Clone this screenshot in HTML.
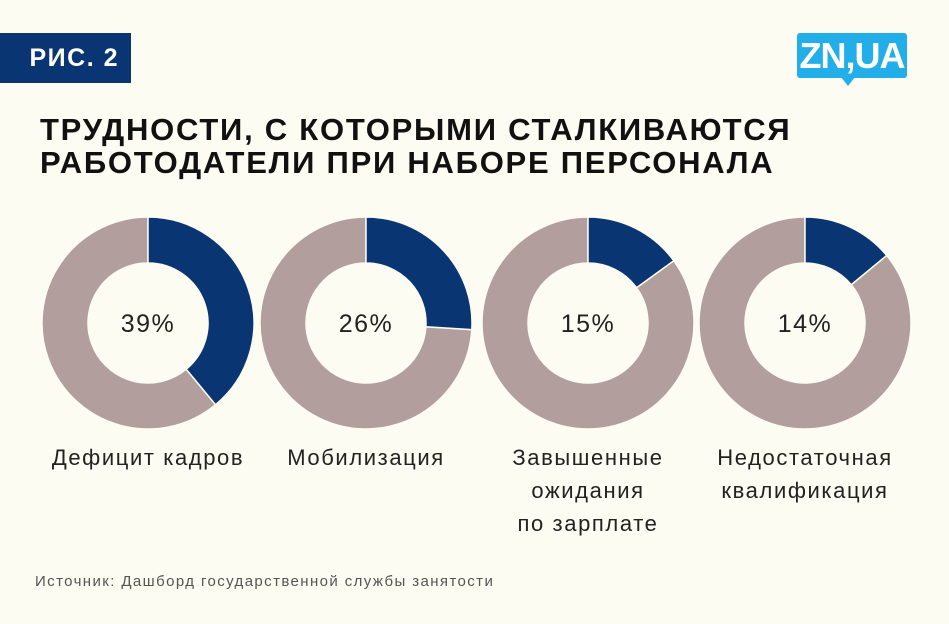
<!DOCTYPE html>
<html><head><meta charset="utf-8"><style>
body{margin:0;width:949px;height:624px;background:#fcfcf2;font-family:"Liberation Sans",sans-serif;position:relative;overflow:hidden}
.badge{position:absolute;left:0;top:33px;width:131px;height:50px;background:#0a3573;color:#fff;font-weight:bold;font-size:25px;line-height:50px;text-align:right;box-sizing:border-box;padding-right:12px;letter-spacing:1.5px}
.logo{position:absolute;left:797px;top:33px;width:110px;height:45px;background:#22aee8;border-radius:3px;color:#fff;font-weight:bold;font-size:36px;line-height:46px;text-align:center;letter-spacing:-1px}
.logo:after{content:"";position:absolute;left:44px;top:44px;border-left:7px solid transparent;border-right:7px solid transparent;border-top:9px solid #22aee8}
h1{position:absolute;left:40px;top:113px;margin:0;font-size:31px;line-height:33px;font-weight:bold;color:#111;letter-spacing:1.75px}
.src{position:absolute;left:35px;top:573px;font-size:15px;color:#555;letter-spacing:1.4px}
</style></head><body>
<div class="badge">РИС. 2</div>
<div class="logo">ZN,UA</div>
<h1>ТРУДНОСТИ, С КОТОРЫМИ СТАЛКИВАЮТСЯ<br>РАБОТОДАТЕЛИ ПРИ НАБОРЕ ПЕРСОНАЛА</h1>
<svg id="chart" width="949" height="624" style="position:absolute;left:0;top:0"></svg>
<div class="src">Источник: Дашборд государственной службы занятости</div>
<script>
const categories=[["Дефицит кадров"],["Мобилизация"],["Завышенные","ожидания","по зарплате"],["Недостаточная","квалификация"]];
const values=[39,26,15,14];
const centersX=[148,366,588,805];
const svg=document.getElementById('chart');
const NS='http://www.w3.org/2000/svg';
const cy=323,R=106,r=60;
function pt(rad,a){return [Math.sin(a)*rad,-Math.cos(a)*rad];}
function arc(cx,a0,a1){const [x0,y0]=pt(R,a0),[x1,y1]=pt(R,a1),[x2,y2]=pt(r,a1),[x3,y3]=pt(r,a0);const l=(a1-a0)>Math.PI?1:0;
return `M${cx+x0},${cy+y0}A${R},${R} 0 ${l} 1 ${cx+x1},${cy+y1}L${cx+x2},${cy+y2}A${r},${r} 0 ${l} 0 ${cx+x3},${cy+y3}Z`;}
values.forEach((v,i)=>{
 const cx=centersX[i];const a=v/100*2*Math.PI;
 const g=document.createElementNS(NS,'g');
 
 
 const rest=document.createElementNS(NS,'path');
 rest.setAttribute('d',arc(cx,a,2*Math.PI-1e-6));rest.setAttribute('fill','#b39e9e');rest.setAttribute('stroke','#fcfcf2');rest.setAttribute('stroke-width','1.5');
 
 
 const s=document.createElementNS(NS,'path');
 s.setAttribute('d',arc(cx,0,a));s.setAttribute('fill','#0a3573');s.setAttribute('stroke','#fcfcf2');s.setAttribute('stroke-width','1.5');
 
 
 g.appendChild(rest);g.appendChild(s);
 const t=document.createElementNS(NS,'text');
 t.setAttribute('x',cx);t.setAttribute('y',cy+9);t.setAttribute('text-anchor','middle');t.setAttribute('font-size','25');t.setAttribute('letter-spacing','1.5');t.setAttribute('fill','#222');
 t.textContent=v+'%';
 
 
 g.appendChild(t);
 categories[i].forEach((line,j)=>{
  const l=document.createElementNS(NS,'text');
  l.setAttribute('x',cx);l.setAttribute('y',465+j*33);l.setAttribute('text-anchor','middle');l.setAttribute('font-size','22');l.setAttribute('letter-spacing','1.6');l.setAttribute('fill','#222');
  l.textContent=line;
  
  
  g.appendChild(l);
 });
 svg.appendChild(g);
});
</script>
</body></html>
